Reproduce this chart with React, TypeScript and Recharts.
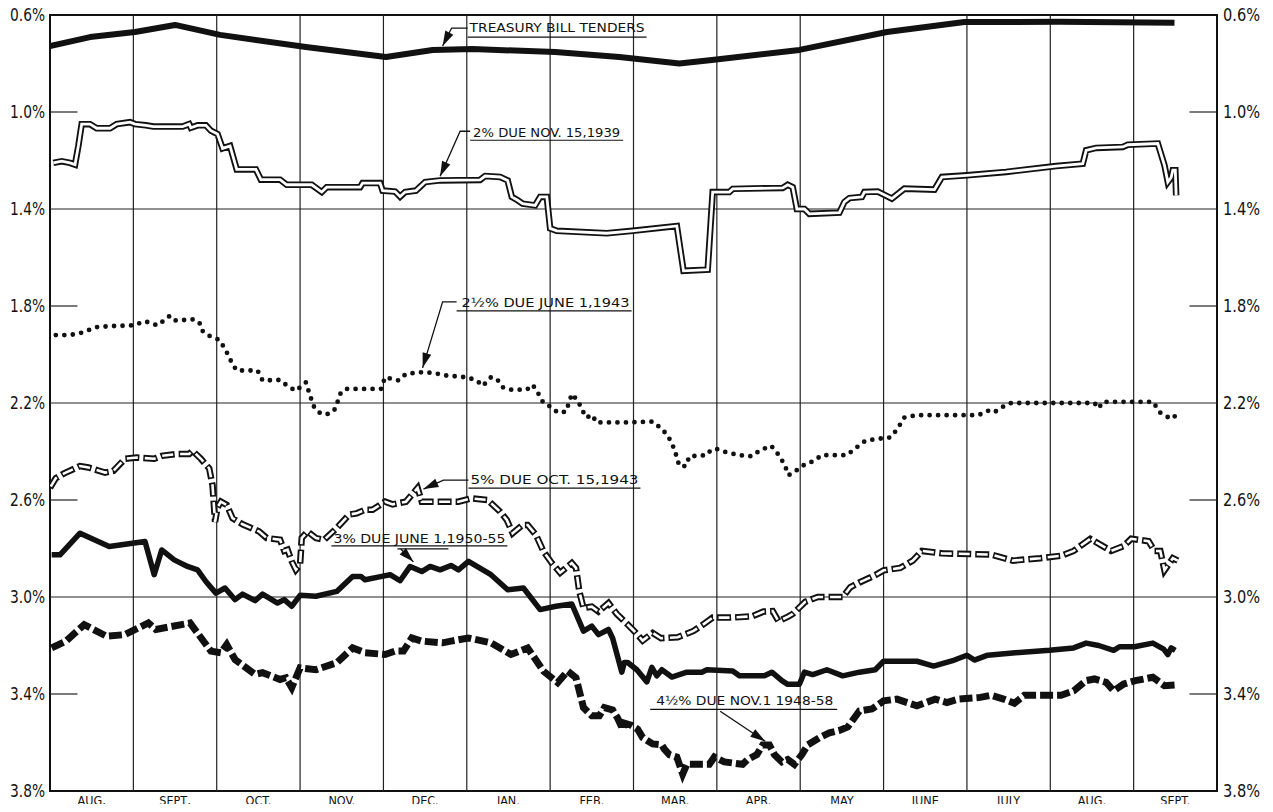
import React from "react";
import {
  LineChart,
  Line,
  XAxis,
  YAxis,
  ReferenceLine,
  ReferenceArea,
  ReferenceDot,
} from "recharts";

type Pt = [number, number];

// x = months since 1 Aug 1938, y = yield in per cent
const monthLabels = ["AUG,", "SEPT,", "OCT.", "NOV.", "DEC.", "JAN.", "FEB.", "MAR.", "APR.", "MAY", "JUNE", "JULY", "AUG.", "SEPT."];
const monthCenters = [0.5, 1.5, 2.5, 3.5, 4.5, 5.5, 6.5, 7.5, 8.5, 9.5, 10.5, 11.5, 12.5, 13.5];
const monthBoundaries = [1, 2, 3, 4, 5, 6, 7, 8, 9, 10, 11, 12, 13];
const yieldTicks = [0.6, 1.0, 1.4, 1.8, 2.2, 2.6, 3.0, 3.4, 3.8];
const fullGridYields = [1.4, 2.2, 3.0];
const shortTickYields = [1.0, 1.8, 2.6, 3.4];

const treasuryBills: Pt[] = [
  [0, 0.728], [0.48, 0.691], [1.02, 0.67], [1.5, 0.641], [2.04, 0.682], [3.07, 0.732],
  [4.03, 0.773], [4.59, 0.744], [5.07, 0.74], [6.06, 0.753], [6.83, 0.773], [7.55, 0.8],
  [7.94, 0.786], [8.99, 0.744], [10.04, 0.67], [10.97, 0.629], [12.11, 0.628], [13.49, 0.632],
];

const dueNov1939: Pt[] = [
  [0.04, 1.21], [0.14, 1.203], [0.24, 1.21], [0.3, 1.217], [0.34, 1.14], [0.38, 1.05], [0.48, 1.05],
  [0.56, 1.067], [0.72, 1.067], [0.8, 1.05], [0.96, 1.042], [1.02, 1.05], [1.15, 1.055], [1.24, 1.06],
  [1.59, 1.06], [1.67, 1.05], [1.69, 1.065], [1.77, 1.055], [1.87, 1.055], [1.93, 1.077], [2.01, 1.091],
  [2.07, 1.15], [2.16, 1.14], [2.24, 1.237], [2.47, 1.237], [2.53, 1.279], [2.76, 1.279], [2.84, 1.3],
  [3.14, 1.3], [3.26, 1.33], [3.32, 1.31], [3.72, 1.31], [3.75, 1.293], [3.96, 1.293], [3.99, 1.324],
  [4.14, 1.328], [4.2, 1.349], [4.26, 1.33], [4.39, 1.324], [4.5, 1.289], [4.68, 1.282], [5.16, 1.28],
  [5.22, 1.264], [5.4, 1.268], [5.49, 1.282], [5.54, 1.35], [5.61, 1.364], [5.67, 1.378], [5.82, 1.385],
  [5.88, 1.35], [5.96, 1.35], [6.0, 1.48], [6.08, 1.49], [6.68, 1.5], [6.99, 1.49], [7.52, 1.47],
  [7.6, 1.655], [7.89, 1.65], [7.95, 1.33], [8.15, 1.33], [8.19, 1.317], [8.79, 1.313], [8.85, 1.3],
  [8.91, 1.31], [8.96, 1.4], [9.05, 1.4], [9.11, 1.42], [9.47, 1.415], [9.53, 1.371], [9.59, 1.355],
  [9.74, 1.35], [9.77, 1.33], [9.93, 1.328], [10.1, 1.357], [10.25, 1.316], [10.61, 1.32], [10.7, 1.268],
  [11.0, 1.261], [11.47, 1.247], [12.07, 1.223], [12.39, 1.213], [12.43, 1.158], [12.55, 1.148],
  [12.87, 1.144], [12.93, 1.135], [13.29, 1.13], [13.37, 1.22], [13.41, 1.289], [13.45, 1.27],
  [13.47, 1.24], [13.5, 1.24], [13.51, 1.344],
];

const dueJune1943: Pt[] = [
  [0.07, 1.92], [0.24, 1.92], [0.38, 1.91], [0.56, 1.887], [0.73, 1.883], [1.0, 1.88], [1.14, 1.863],
  [1.29, 1.88], [1.44, 1.84], [1.51, 1.86], [1.73, 1.855], [1.8, 1.873], [1.82, 1.9], [1.89, 1.92],
  [2.03, 1.94], [2.1, 1.977], [2.19, 2.04], [2.24, 2.066], [2.49, 2.066], [2.55, 2.107], [2.76, 2.105],
  [2.85, 2.13], [2.95, 2.15], [3.07, 2.115], [3.12, 2.17], [3.17, 2.218], [3.25, 2.245], [3.35, 2.245],
  [3.42, 2.225], [3.49, 2.156], [3.56, 2.142], [3.97, 2.142], [4.02, 2.094], [4.18, 2.107], [4.27, 2.08],
  [4.46, 2.073], [4.6, 2.076], [4.76, 2.087], [5.0, 2.094], [5.12, 2.107], [5.19, 2.13], [5.29, 2.094],
  [5.36, 2.1], [5.43, 2.135], [5.53, 2.145], [5.72, 2.145], [5.79, 2.125], [5.85, 2.156], [5.92, 2.2],
  [6.02, 2.218], [6.09, 2.24], [6.19, 2.236], [6.26, 2.163], [6.33, 2.19], [6.38, 2.225], [6.43, 2.26],
  [6.51, 2.25], [6.55, 2.28], [6.93, 2.28], [7.23, 2.277], [7.35, 2.31], [7.42, 2.34], [7.49, 2.39],
  [7.55, 2.46], [7.63, 2.46], [7.67, 2.42], [7.88, 2.415], [7.93, 2.393], [8.0, 2.39], [8.12, 2.404],
  [8.27, 2.415], [8.42, 2.42], [8.51, 2.397], [8.65, 2.376], [8.72, 2.404], [8.81, 2.452], [8.86, 2.498],
  [8.93, 2.484], [9.06, 2.452], [9.16, 2.44], [9.26, 2.415], [9.56, 2.415], [9.65, 2.39], [9.78, 2.356],
  [9.9, 2.349], [10.08, 2.342], [10.16, 2.31], [10.25, 2.26], [10.4, 2.25], [11.14, 2.25], [11.25, 2.232],
  [11.32, 2.24], [11.44, 2.214], [11.53, 2.2], [12.53, 2.2], [12.58, 2.222], [12.63, 2.195], [13.23, 2.195],
  [13.32, 2.24], [13.45, 2.266], [13.53, 2.245],
];

const dueOct1943: Pt[] = [
  [0, 2.55], [0.07, 2.51], [0.17, 2.49], [0.36, 2.46], [0.46, 2.466], [0.66, 2.487], [0.76, 2.48],
  [0.9, 2.43], [1.04, 2.425], [1.25, 2.43], [1.34, 2.418], [1.53, 2.41], [1.67, 2.41], [1.71, 2.397],
  [1.81, 2.43], [1.91, 2.47], [1.95, 2.54], [1.98, 2.69], [2.01, 2.63], [2.05, 2.607], [2.12, 2.62],
  [2.19, 2.675], [2.31, 2.7], [2.51, 2.73], [2.6, 2.757], [2.76, 2.764], [2.81, 2.81], [2.85, 2.805],
  [2.9, 2.853], [2.95, 2.888], [3.0, 2.867], [3.02, 2.757], [3.09, 2.73], [3.19, 2.757], [3.29, 2.764],
  [3.44, 2.716], [3.59, 2.66], [3.68, 2.655], [3.78, 2.64], [3.87, 2.64], [4.02, 2.607], [4.11, 2.618],
  [4.27, 2.607], [4.41, 2.55], [4.46, 2.607], [4.9, 2.607], [5.05, 2.593], [5.25, 2.6], [5.4, 2.648],
  [5.48, 2.682], [5.55, 2.737], [5.67, 2.703], [5.73, 2.703], [5.83, 2.744], [5.92, 2.812], [6.02, 2.86],
  [6.12, 2.9], [6.26, 2.86], [6.31, 2.88], [6.35, 2.977], [6.4, 3.045], [6.5, 3.04], [6.58, 3.06],
  [6.7, 3.025], [6.8, 3.07], [6.92, 3.11], [7.03, 3.148], [7.11, 3.18], [7.23, 3.148], [7.33, 3.17],
  [7.53, 3.166], [7.72, 3.14], [7.85, 3.11], [7.95, 3.085], [8.17, 3.085], [8.42, 3.08], [8.56, 3.06],
  [8.67, 3.058], [8.74, 3.1], [8.86, 3.08], [8.91, 3.07], [9.06, 3.02], [9.21, 3.0], [9.51, 3.0],
  [9.6, 2.96], [9.71, 2.94], [9.9, 2.91], [10.0, 2.89], [10.2, 2.88], [10.35, 2.85], [10.46, 2.81],
  [10.7, 2.82], [11.29, 2.825], [11.55, 2.85], [11.88, 2.84], [12.13, 2.83], [12.28, 2.81], [12.48, 2.76],
  [12.63, 2.79], [12.73, 2.81], [12.88, 2.79], [12.97, 2.76], [13.18, 2.77], [13.25, 2.81], [13.32, 2.81],
  [13.37, 2.89], [13.47, 2.84], [13.53, 2.85],
];

const dueJune1950: Pt[] = [
  [0.02, 2.826], [0.12, 2.826], [0.36, 2.737], [0.71, 2.792], [1.14, 2.771], [1.25, 2.908], [1.34, 2.806],
  [1.49, 2.847], [1.65, 2.874], [1.77, 2.888], [1.87, 2.936], [1.99, 2.984], [2.1, 2.963], [2.22, 3.011],
  [2.31, 2.988], [2.46, 3.015], [2.55, 2.988], [2.73, 3.025], [2.81, 3.011], [2.9, 3.038], [3.0, 2.993],
  [3.19, 2.997], [3.44, 2.977], [3.63, 2.915], [3.73, 2.915], [3.78, 2.929], [3.98, 2.915], [4.08, 2.908],
  [4.2, 2.933], [4.32, 2.874], [4.46, 2.895], [4.56, 2.874], [4.68, 2.888], [4.81, 2.87], [4.9, 2.888],
  [5.02, 2.853], [5.29, 2.908], [5.49, 2.97], [5.68, 2.963], [5.88, 3.052], [6.07, 3.038], [6.26, 3.029],
  [6.4, 3.141], [6.5, 3.12], [6.58, 3.155], [6.7, 3.134], [6.75, 3.17], [6.86, 3.31], [6.89, 3.27],
  [6.93, 3.27], [7.04, 3.3], [7.16, 3.35], [7.22, 3.29], [7.28, 3.325], [7.34, 3.3], [7.46, 3.33],
  [7.64, 3.31], [7.82, 3.31], [7.88, 3.3], [8.19, 3.305], [8.27, 3.325], [8.57, 3.325], [8.66, 3.31],
  [8.78, 3.345], [8.85, 3.36], [8.99, 3.36], [9.05, 3.31], [9.15, 3.32], [9.32, 3.3], [9.51, 3.325],
  [9.71, 3.31], [9.9, 3.3], [10.0, 3.265], [10.4, 3.265], [10.6, 3.285], [10.85, 3.26], [11.0, 3.24],
  [11.09, 3.26], [11.25, 3.24], [11.58, 3.23], [11.99, 3.22], [12.28, 3.21], [12.43, 3.19], [12.58, 3.2],
  [12.76, 3.22], [12.83, 3.205], [13.01, 3.205], [13.23, 3.19], [13.36, 3.215], [13.41, 3.237],
  [13.45, 3.21], [13.5, 3.22],
];

const dueNov1948: Pt[] = [
  [0.02, 3.21], [0.19, 3.182], [0.41, 3.114], [0.68, 3.162], [0.9, 3.155], [1.18, 3.107], [1.27, 3.134],
  [1.68, 3.107], [1.93, 3.223], [2.05, 3.23], [2.12, 3.196], [2.22, 3.258], [2.46, 3.319], [2.55, 3.312],
  [2.76, 3.34], [2.83, 3.333], [2.9, 3.374], [3.0, 3.292], [3.19, 3.3], [3.44, 3.271], [3.63, 3.21],
  [3.78, 3.23], [4.02, 3.237], [4.14, 3.223], [4.24, 3.223], [4.34, 3.169], [4.46, 3.182], [4.71, 3.189],
  [4.81, 3.182], [5.02, 3.169], [5.29, 3.189], [5.53, 3.237], [5.73, 3.21], [5.92, 3.306], [6.09, 3.353],
  [6.21, 3.306], [6.31, 3.333], [6.4, 3.456], [6.5, 3.49], [6.59, 3.49], [6.65, 3.456], [6.75, 3.466],
  [6.81, 3.5], [6.87, 3.545], [6.89, 3.52], [6.98, 3.53], [7.05, 3.545], [7.11, 3.58], [7.23, 3.606],
  [7.34, 3.61], [7.37, 3.627], [7.43, 3.65], [7.52, 3.66], [7.59, 3.73], [7.64, 3.69], [7.71, 3.69],
  [7.91, 3.69], [7.97, 3.66], [8.09, 3.68], [8.31, 3.69], [8.37, 3.67], [8.48, 3.65], [8.55, 3.61],
  [8.63, 3.61], [8.69, 3.65], [8.78, 3.68], [8.85, 3.67], [8.93, 3.69], [9.02, 3.65], [9.09, 3.61],
  [9.23, 3.58], [9.35, 3.56], [9.47, 3.55], [9.57, 3.536], [9.71, 3.47], [9.86, 3.462], [10.0, 3.428],
  [10.16, 3.421], [10.4, 3.449], [10.62, 3.421], [10.76, 3.435], [10.9, 3.421], [11.16, 3.414],
  [11.29, 3.405], [11.44, 3.421], [11.57, 3.438], [11.69, 3.405], [12.13, 3.405], [12.28, 3.387],
  [12.43, 3.345], [12.53, 3.338], [12.67, 3.352], [12.76, 3.387], [12.88, 3.359], [13.02, 3.345],
  [13.23, 3.331], [13.37, 3.366], [13.5, 3.363],
];

const INK = "#111";
const FONT = "'DejaVu Sans Condensed', 'DejaVu Sans', sans-serif";
const W = 1273;
const H = 812;
const PLOT_LEFT = 50;

type Callout = {
  text: string;
  tip: Pt; // data coordinates of the arrow point
  leader: Pt[]; // pixel offsets from the tip
  textAt: Pt;
  textWidth: number;
  underline: [number, number, number];
};

const callouts: Callout[] = [
  { text: "TREASURY BILL TENDERS", tip: [4.71, 0.728], leader: [[9, -18], [25, -18]], textAt: [27, -14], textWidth: 175, underline: [25, 204, -9] },
  { text: "2% DUE NOV. 15,1939", tip: [4.68, 1.265], leader: [[20, -45], [30, -45]], textAt: [33, -39], textWidth: 147, underline: [30, 183, -36] },
  { text: "2½% DUE JUNE 1,1943", tip: [4.47, 2.055], leader: [[20, -66], [34, -66]], textAt: [39, -61], textWidth: 168, underline: [34, 209, -57] },
  { text: "5% DUE OCT. 15,1943", tip: [4.48, 2.555], leader: [[20, -9], [45, -9]], textAt: [47, -5], textWidth: 168, underline: [45, 217, -1] },
  { text: "3% DUE JUNE 1,1950-55", tip: [4.36, 2.855], leader: [[-13, -13], [-16, -13], [35, -13]], textAt: [-80, -19], textWidth: 172, underline: [-82, 94, -16] },
  { text: "4½% DUE NOV.1 1948-58", tip: [8.58, 3.595], leader: [[-45, -30]], textAt: [-109, -36], textWidth: 177, underline: [-115, 72, -32] },
];

const toRows = (pts: Pt[]) => pts.map(([x, y]) => ({ x, y }));
const fmt = (v: number) => `${v.toFixed(1)}%`;

const CalloutMark = ({ cx, cy, c }: { cx: number; cy: number; c: Callout }) => {
  const [p0x, p0y] = c.leader[0];
  const len = Math.hypot(p0x, p0y);
  const ux = -p0x / len;
  const uy = -p0y / len;
  const hl = 15;
  const hw = 4.5;
  const bx = cx - ux * hl;
  const by = cy - uy * hl;
  const head = `${cx},${cy} ${bx - uy * hw},${by + ux * hw} ${bx + uy * hw},${by - ux * hw}`;
  const pts = [[0, 0] as Pt, ...c.leader].map(([dx, dy]) => `${cx + dx},${cy + dy}`).join(" ");
  return (
    <g>
      <polyline points={pts} fill="none" stroke={INK} strokeWidth={1.3} />
      <polygon points={head} fill={INK} />
      <text
        x={cx + c.textAt[0]}
        y={cy + c.textAt[1]}
        fontSize={12.5}
        fontFamily={FONT}
        fill={INK}
        textLength={c.textWidth}
        lengthAdjust="spacingAndGlyphs"
      >
        {c.text}
      </text>
      <line
        x1={cx + c.underline[0]}
        x2={cx + c.underline[1]}
        y1={cy + c.underline[2]}
        y2={cy + c.underline[2]}
        stroke={INK}
        strokeWidth={1.2}
      />
    </g>
  );
};

// left labels are right-aligned against the frame, right labels start after it
const LeftTick = (props: any) => (
  <text
    x={PLOT_LEFT - 5 - 35}
    y={props.y}
    dy="0.36em"
    textAnchor="start"
    fontSize={18}
    fontFamily={FONT}
    fill={INK}
    textLength={35}
    lengthAdjust="spacingAndGlyphs"
  >
    {fmt(props.payload.value)}
  </text>
);

const RightTick = (props: any) => (
  <text
    x={props.x}
    y={props.y}
    dy="0.36em"
    textAnchor="start"
    fontSize={18}
    fontFamily={FONT}
    fill={INK}
    textLength={37}
    lengthAdjust="spacingAndGlyphs"
  >
    {fmt(props.payload.value)}
  </text>
);

export default function App() {
  const common = {
    yAxisId: "left",
    dataKey: "y",
    dot: false,
    activeDot: false,
    isAnimationActive: false,
    type: "linear" as const,
  };
  return (
    <div style={{ margin: -8, position: "relative", width: W, height: H, background: "#fff" }}>
      <LineChart width={W} height={H} margin={{ top: 15, right: 0, bottom: 0, left: 0 }}>
        <XAxis
          dataKey="x"
          type="number"
          domain={[0, 14]}
          allowDataOverflow
          ticks={monthCenters}
          tickFormatter={(v: number) => monthLabels[Math.floor(v)]}
          tickLine={false}
          axisLine={false}
          tickSize={0}
          tickMargin={5}
          height={21}
          interval={0}
          tick={{ fontSize: 12.5, fill: INK, fontFamily: FONT }}
        />
        <YAxis
          yAxisId="left"
          orientation="left"
          type="number"
          domain={[0.6, 3.8]}
          reversed
          allowDataOverflow
          ticks={yieldTicks}
          interval={0}
          width={PLOT_LEFT}
          tickLine={false}
          axisLine={false}
          tickSize={0}
          tick={LeftTick}
        />
        <YAxis
          yAxisId="right"
          orientation="right"
          type="number"
          domain={[0.6, 3.8]}
          reversed
          allowDataOverflow
          ticks={yieldTicks}
          interval={0}
          width={56}
          tickLine={false}
          axisLine={false}
          tickSize={0}
          tickMargin={6}
          tick={RightTick}
        />

        <ReferenceArea yAxisId="left" x1={0} x2={14} y1={0.6} y2={3.8} fill="none" stroke={INK} strokeWidth={2} ifOverflow="visible" />
        {monthBoundaries.map((m) => (
          <ReferenceLine key={`m${m}`} yAxisId="left" x={m} stroke="#222" strokeWidth={1.2} />
        ))}
        {fullGridYields.map((v) => (
          <ReferenceLine key={`g${v}`} yAxisId="left" y={v} stroke="#222" strokeWidth={1.2} />
        ))}
        {shortTickYields.map((v) => (
          <ReferenceLine key={`tl${v}`} yAxisId="left" segment={[{ x: 0, y: v }, { x: 0.33, y: v }]} stroke="#222" strokeWidth={1.2} />
        ))}
        {shortTickYields.map((v) => (
          <ReferenceLine key={`tr${v}`} yAxisId="left" segment={[{ x: 13.67, y: v }, { x: 14, y: v }]} stroke="#222" strokeWidth={1.2} />
        ))}

        <Line {...common} data={toRows(treasuryBills)} stroke={INK} strokeWidth={6} strokeLinejoin="round" />

        <Line {...common} data={toRows(dueNov1939)} stroke={INK} strokeWidth={6.5} strokeLinejoin="miter" />
        <Line {...common} data={toRows(dueNov1939)} stroke="#fff" strokeWidth={2.8} strokeLinejoin="miter" />

        <Line {...common} data={toRows(dueJune1943)} stroke={INK} strokeWidth={4.8} strokeDasharray="0 8.5" strokeLinecap="round" />

        <Line {...common} data={toRows(dueOct1943)} stroke={INK} strokeWidth={6.5} strokeDasharray="14 4" />
        <Line {...common} data={toRows(dueOct1943)} stroke="#fff" strokeWidth={2.6} strokeDasharray="11 7" strokeDashoffset={-1.5} />

        <Line {...common} data={toRows(dueJune1950)} stroke={INK} strokeWidth={5.5} strokeLinejoin="round" />

        <Line {...common} data={toRows(dueNov1948)} stroke={INK} strokeWidth={7} strokeDasharray="13 4" />

        {callouts.map((c) => (
          <ReferenceDot
            key={c.text}
            yAxisId="left"
            x={c.tip[0]}
            y={c.tip[1]}
            r={0}
            ifOverflow="visible"
            shape={(p: any) => <CalloutMark cx={p.cx} cy={p.cy} c={c} />}
          />
        ))}
      </LineChart>
      <svg width={W} height={16} style={{ position: "absolute", left: 0, top: 0, pointerEvents: "none" }}>
        <text x={406} y={8} fontSize={16} fontFamily={FONT} fill={INK} textLength={456} lengthAdjust="spacingAndGlyphs">
          DOMINION OF CANADA DOMESTIC BOND YIELDS 1938-39
        </text>
      </svg>
    </div>
  );
}
